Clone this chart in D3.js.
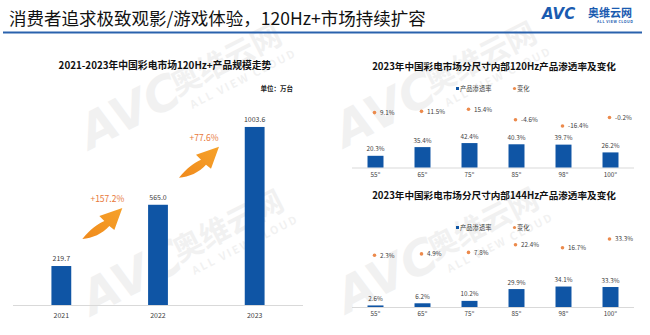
<!DOCTYPE html>
<html><head><meta charset="utf-8">
<script src="https://cdn.jsdelivr.net/npm/d3@7"></script>
<style>html,body{margin:0;padding:0;background:#fff;}svg{display:block;font-family:"Noto Sans CJK SC","Noto Sans",sans-serif;}</style>
</head><body>
<script>
// ---- data ----
const years = ["2021", "2022", "2023"];
const volumes = [219.7, 565.0, 1003.6];
const growthLabels = ["+157.2%", "+77.6%"];
const sizes = ["55\"", "65\"", "75\"", "85\"", "98\"", "100\""];
const pen120 = [20.3, 35.4, 42.4, 40.3, 39.7, 26.2];
const chg120 = [9.1, 11.5, 15.4, -4.6, -16.4, -0.2];
const pen144 = [2.6, 6.2, 10.2, 29.9, 34.1, 33.3];
const chg144 = [2.3, 4.9, 7.8, 22.4, 16.7, 33.3];

const W = 650, H = 335;
const BLUE = "#0f55a5", ORANGE = "#ec8a4c", TXT = "#404040", AX = "#d9d9d9";
const svg = d3.select("body").append("svg").attr("width", W).attr("height", H);

// ---- watermarks ----
function watermark(x, y) {
  const g = svg.append("g").attr("transform", `translate(${x},${y}) rotate(-27)`)
    .attr("fill", "#000").attr("opacity", 0.05);
  g.append("text").attr("x", 0).attr("y", 0).attr("font-size", 48).attr("font-weight", 700)
    .attr("font-style", "italic").attr("font-family", "DejaVu Sans").text("AVC");
  g.append("text").attr("x", 102).attr("y", -8).attr("font-size", 30).attr("font-weight", 700).text("奥维云网");
  g.append("text").attr("x", 110).attr("y", 10).attr("font-size", 11).attr("font-weight", 700)
    .attr("letter-spacing", 2).text("ALL VIEW CLOUD");
}
watermark(90, 150); watermark(92, 316); watermark(345, 148); watermark(347, 314);

// ---- header ----
svg.append("text").attr("x", 9).attr("y", 25).attr("font-size", 17.5).attr("fill", "#111")
  .text("消费者追求极致观影/游戏体验，120Hz+市场持续扩容");
svg.append("line").attr("x1", 3).attr("x2", 642).attr("y1", 32.5).attr("y2", 32.5)
  .attr("stroke", "#2a62ad").attr("stroke-width", 2);
svg.append("text").attr("x", 542).attr("y", 19).attr("font-size", 15).attr("font-weight", 700)
  .attr("font-style", "italic").attr("font-family", "DejaVu Sans").attr("fill", "#1a5bb0").text("AVC");
svg.append("text").attr("x", 588).attr("y", 17).attr("font-size", 11).attr("font-weight", 700)
  .attr("fill", "#1a5bb0").text("奥维云网");
svg.append("text").attr("x", 597).attr("y", 23).attr("font-size", 3.6).attr("font-weight", 700)
  .attr("fill", "#1a5bb0").attr("letter-spacing", 0.5).text("ALL VIEW CLOUD");

// ---- left chart ----
svg.append("text").attr("x", 165).attr("y", 69).attr("text-anchor", "middle").attr("font-size", 9.8)
  .attr("font-weight", 700).attr("fill", "#111").text("2021-2023年中国彩电市场120Hz+产品规模走势");
svg.append("text").attr("x", 293).attr("y", 91).attr("text-anchor", "end").attr("font-size", 6.5)
  .attr("font-weight", 700).attr("fill", "#222").text("单位：万台");

const xL = d3.scaleBand().domain(years).range([13, 303]);
const yL = d3.scaleLinear().domain([0, 1100]).range([305, 305 - 1100 * 0.1774]);
const bwL = xL.bandwidth() * 0.205;
svg.append("line").attr("x1", 13).attr("x2", 303).attr("y1", 305.5).attr("y2", 305.5).attr("stroke", AX);
svg.selectAll(".barL").data(volumes).join("rect")
  .attr("x", (d, i) => xL(years[i]) + xL.bandwidth() / 2 - bwL / 2)
  .attr("y", d => yL(d)).attr("width", bwL).attr("height", d => yL(0) - yL(d)).attr("fill", BLUE);
svg.selectAll(".vL").data(volumes).join("text")
  .attr("x", (d, i) => xL(years[i]) + xL.bandwidth() / 2).attr("y", d => yL(d) - 5)
  .attr("text-anchor", "middle").attr("font-size", 7).attr("fill", TXT).text(d => d.toFixed(1));
svg.selectAll(".xL").data(years).join("text")
  .attr("x", d => xL(d) + xL.bandwidth() / 2).attr("y", 318).attr("text-anchor", "middle")
  .attr("font-size", 7).attr("fill", TXT).text(d => d);

// arrows
const defs = svg.append("defs");
const grad = defs.append("linearGradient").attr("id", "ag").attr("x1", "0").attr("y1", "1").attr("x2", "1").attr("y2", "0");
grad.append("stop").attr("offset", "0").attr("stop-color", "#f08a1c");
grad.append("stop").attr("offset", "1").attr("stop-color", "#f6a22a");
const arrowPath = "M0,0 C8,-10 15,-15 22,-18 L17,-23 L40,-31 L32,-9 L27,-13 C20,-5 10,-1 0,0 Z";
[1, 2].forEach(i => {
  const xa = xL(years[i - 1]) + xL.bandwidth() / 2 + 21;
  const ya = yL(volumes[i - 1]) - 27;
  svg.append("path").attr("d", arrowPath).attr("fill", "url(#ag)")
    .attr("transform", `translate(${xa},${ya})`);
  svg.append("text").attr("x", xa + 25).attr("y", ya - 37).attr("text-anchor", "middle")
    .attr("font-size", 8.5).attr("fill", "#e8783a").text(growthLabels[i - 1]);
});

// ---- right charts ----
function sizeChart(opt) {
  const { title, ty, ly, base, pen, chg, chgZero, chgK } = opt;
  svg.append("text").attr("x", 494).attr("y", ty).attr("text-anchor", "middle").attr("font-size", 9.6)
    .attr("font-weight", 700).attr("fill", "#111").text(title);
  // legend
  svg.append("rect").attr("x", 456).attr("y", ly - 1.5).attr("width", 3).attr("height", 3).attr("fill", BLUE);
  svg.append("text").attr("x", 460).attr("y", ly + 2.2).attr("font-size", 6.3).attr("fill", TXT).text("产品渗透率");
  svg.append("circle").attr("cx", 514.5).attr("cy", ly).attr("r", 1.6).attr("fill", ORANGE);
  svg.append("text").attr("x", 517).attr("y", ly + 2.2).attr("font-size", 6.3).attr("fill", TXT).text("变化");

  const x = d3.scaleBand().domain(sizes).range([352, 634]);
  const y = d3.scaleLinear().domain([0, 100]).range([base, base - 100 * opt.k]);
  const yc = d3.scaleLinear().domain([0, 40]).range([chgZero, chgZero - 40 * chgK]);
  const bw = x.bandwidth() * 0.34;
  const cx = s => x(s) + x.bandwidth() / 2;
  svg.append("line").attr("x1", 352).attr("x2", 634).attr("y1", base + 0.5).attr("y2", base + 0.5).attr("stroke", AX);
  const g = svg.append("g");
  g.selectAll("rect").data(pen).join("rect")
    .attr("x", (d, i) => cx(sizes[i]) - bw / 2).attr("y", d => y(d)).attr("width", bw)
    .attr("height", d => y(0) - y(d)).attr("fill", BLUE);
  g.selectAll(".pv").data(pen).join("text")
    .attr("x", (d, i) => cx(sizes[i])).attr("y", d => y(d) - 4.5).attr("text-anchor", "middle")
    .attr("font-size", 6.3).attr("fill", TXT).text(d => d.toFixed(1) + "%");
  g.selectAll(".xl").data(sizes).join("text")
    .attr("x", d => cx(d)).attr("y", base + 9).attr("text-anchor", "middle")
    .attr("font-size", 6.3).attr("fill", TXT).text(d => d);
  g.selectAll("circle").data(chg).join("circle")
    .attr("cx", (d, i) => cx(sizes[i]) - 1).attr("cy", d => yc(d)).attr("r", 1.8).attr("fill", ORANGE);
  g.selectAll(".cv").data(chg).join("text")
    .attr("x", (d, i) => cx(sizes[i]) + 4.5).attr("y", d => yc(d) + 2.3)
    .attr("font-size", 6.3).attr("fill", TXT).text(d => d.toFixed(1) + "%");
}
sizeChart({ title: "2023年中国彩电市场分尺寸内部120Hz产品渗透率及变化", ty: 70, ly: 88.5, base: 167.5,
  k: 0.576, pen: pen120, chg: chg120, chgZero: 117.4, chgK: 0.525 });
sizeChart({ title: "2023年中国彩电市场分尺寸内部144Hz产品渗透率及变化", ty: 199, ly: 227.5, base: 307,
  k: 0.6, pen: pen144, chg: chg144, chgZero: 256.5, chgK: 0.526 });
</script>
</body></html>
